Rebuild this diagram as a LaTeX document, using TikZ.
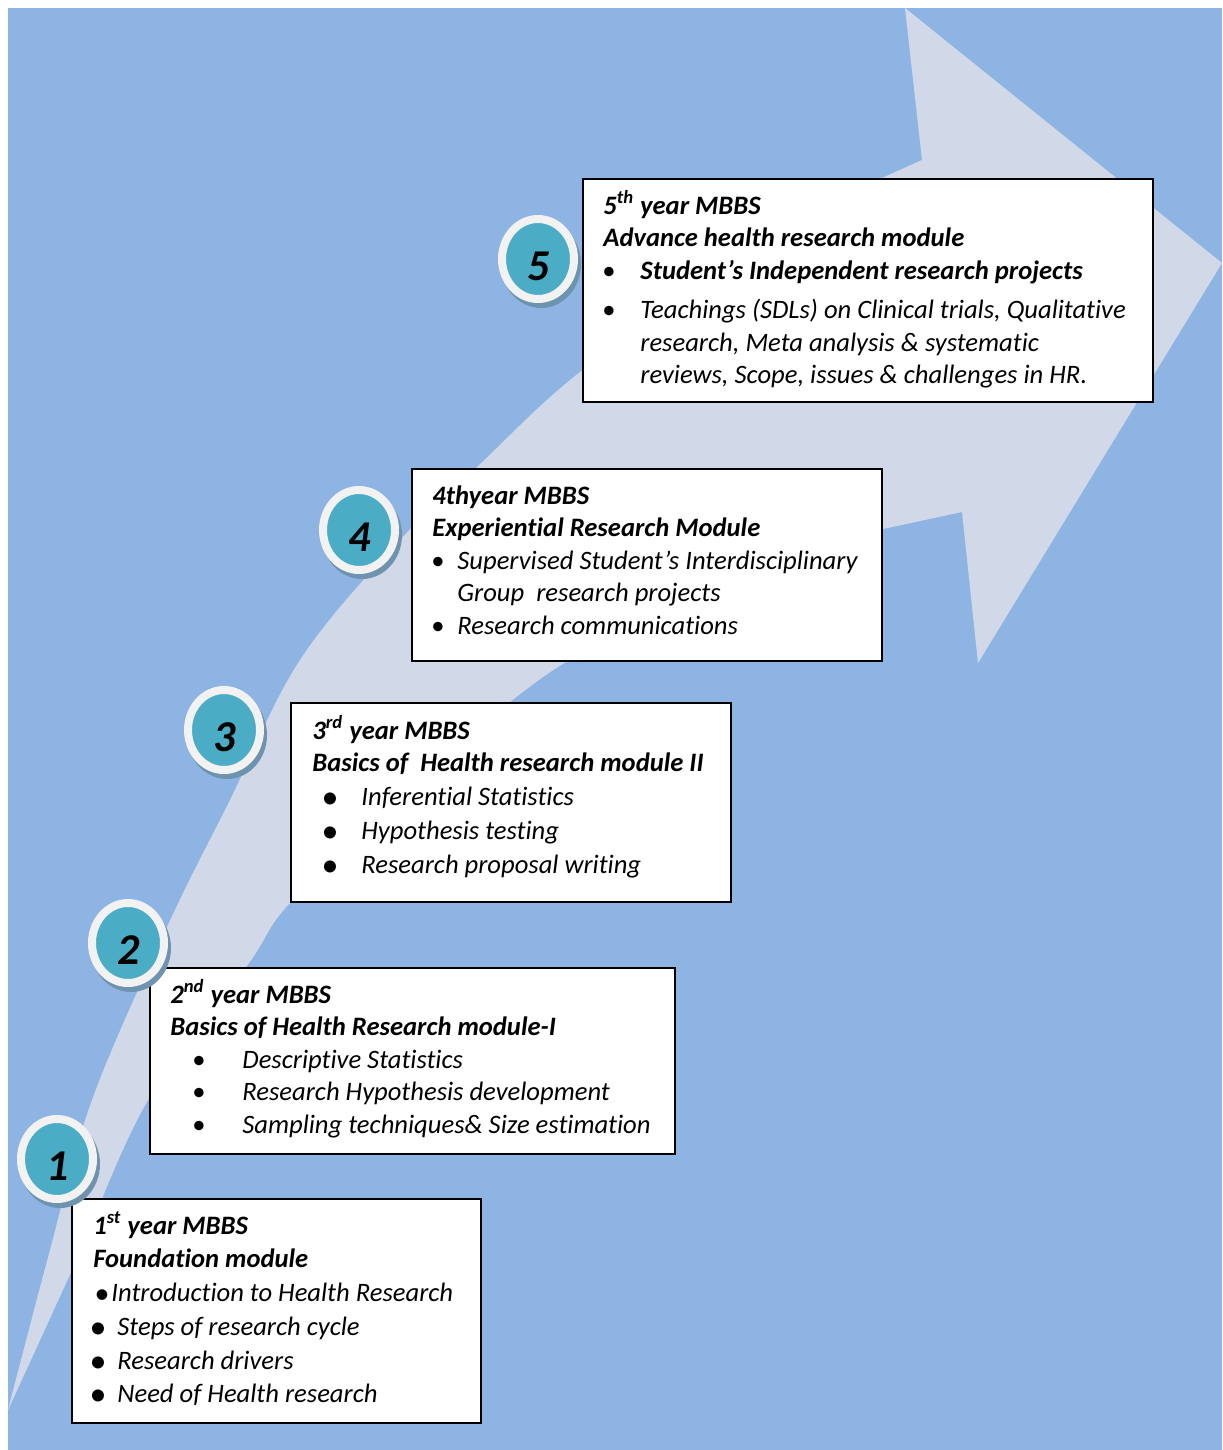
\documentclass[tikz,border=0pt]{standalone}
\usepackage{fontspec}
\setmainfont[Ligatures={NoCommon}]{Carlito}
\usetikzlibrary{shapes.geometric}
\definecolor{bgblue}{HTML}{8EB4E3}
\definecolor{arrowc}{HTML}{D1D9E8}
\definecolor{tealc}{HTML}{4BACC6}
\definecolor{ringc}{HTML}{F2F2F2}
\definecolor{shadc}{HTML}{6E93AE}
\tikzset{
  box/.style={draw=black, line width=1pt, fill=white, inner sep=0pt, anchor=center},
  ln/.style={anchor=base west, inner sep=0pt, font=\fontsize{13.3}{15}\selectfont\itshape},
  hd/.style={anchor=base west, inner sep=0pt, font=\fontsize{13.3}{15}\selectfont\bfseries\itshape},
  bul/.style={anchor=base, inner sep=0pt, font=\fontsize{13.3}{15}\selectfont},
  bigbul/.style={anchor=base, inner sep=0pt, font=\fontsize{17}{19}\selectfont},
  midbul/.style={anchor=base, inner sep=0pt, font=\fontsize{15}{17}\selectfont},
  ring/.style={ellipse, fill=tealc, draw=ringc, line width=4pt, minimum width=36pt, minimum height=40pt, inner sep=0pt},
  num/.style={inner sep=0pt, font=\fontsize{22}{26}\selectfont\bfseries\itshape}
}
\begin{document}
\begin{tikzpicture}[x=0.5pt,y=-0.5pt]
\useasboundingbox (0,0) rectangle (1222,1450);
\fill[bgblue] (8,8) rectangle (1222,1450);
% curved arrow
\fill[arrowc] (8,1410) -- plot[smooth, tension=0.6] coordinates {(8,1410) (50,1250) (92,1100) (167,927) (230,800) (300,660) (400,540) (477,467) (580,372) (730,268) (884,177)}
  -- (922,160) -- (905,8) -- (1222,263) -- (978,663) -- (962,512)
  -- plot[smooth, tension=0.6] coordinates {(883,529) (740,582) (600,643) (510,702) (400,800) (290,903) (247,966) (148,1100) (72,1270) (8,1410)} -- cycle;

% boxes
\node[box, minimum width=285pt, minimum height=111.5pt] (box5) at (868,290.5) {};
\node[box, minimum width=235pt, minimum height=96pt] (box4) at (647,565) {};
\node[box, minimum width=220pt, minimum height=99.5pt] (box3) at (511,802.5) {};
\node[box, minimum width=262.5pt, minimum height=93pt] (box2) at (412.5,1061) {};
\node[box, minimum width=204.5pt, minimum height=112pt] (box1) at (276.5,1311) {};

% circles
\foreach \cx/\cy/\n in {57/1159/1, 128/943/2, 224/730/3, 359/530/4, 538/259/5}{
  \fill[shadc] (\cx+3,\cy+5) ellipse [x radius=20pt, y radius=22pt];
  \node[ring] (c\n) at (\cx,\cy) {};
  \node[num] (n\n) at (\cx+1,\cy+7) {\n};
}

% box 5
\node[hd] (t5a) at (603,214) {5\textsuperscript{th} year MBBS};
\node[hd] (t5b) at (603,246) {Advance health research module};
\node[bul] (u5a) at (609,279) {\textbullet};
\node[hd] (t5c) at (640,279) {Student’s Independent research projects};
\node[bul] (u5b) at (609,318) {\textbullet};
\node[ln] (t5d) at (640,318) {Teachings (SDLs) on Clinical trials, Qualitative};
\node[ln] (t5e) at (640,351) {research, Meta analysis \& systematic};
\node[ln] (t5f) at (640,383) {reviews, Scope, issues \& challenges in HR.};

% box 4
\node[hd] (t4a) at (432,504) {4thyear MBBS};
\node[hd] (t4b) at (432,536) {Experiential Research Module};
\node[bul] (u4a) at (438,569) {\textbullet};
\node[ln] (t4c) at (457,569) {Supervised Student’s Interdisciplinary};
\node[ln] (t4d) at (457,601) {Group\ \ research projects};
\node[bul] (u4b) at (438,634) {\textbullet};
\node[ln] (t4e) at (457,634) {Research communications};

% box 3
\node[hd] (t3a) at (312,739) {3\textsuperscript{rd} year MBBS};
\node[hd] (t3b) at (312,771) {Basics of\ \ Health research module II};
\node[bigbul] (u3a) at (330,808) {\textbullet};
\node[ln] (t3c) at (361,805) {Inferential Statistics};
\node[bigbul] (u3b) at (330,842) {\textbullet};
\node[ln] (t3d) at (361,839) {Hypothesis testing};
\node[bigbul] (u3c) at (330,876) {\textbullet};
\node[ln] (t3e) at (361,873) {Research proposal writing};

% box 2
\node[hd] (t2a) at (170,1003) {2\textsuperscript{nd} year MBBS};
\node[hd] (t2b) at (170,1035) {Basics of Health Research module-I};
\node[bul] (u2a) at (199,1068) {\textbullet};
\node[ln] (t2c) at (242,1068) {Descriptive Statistics};
\node[bul] (u2b) at (199,1100) {\textbullet};
\node[ln] (t2d) at (242,1100) {Research Hypothesis development};
\node[bul] (u2c) at (199,1133) {\textbullet};
\node[ln] (t2e) at (242,1133) {Sampling techniques\& Size estimation};

% box 1
\node[hd] (t1a) at (93,1234) {1\textsuperscript{st} year MBBS};
\node[hd] (t1b) at (93,1267) {Foundation module};
\node[midbul] (u1a) at (102,1303) {\textbullet};
\node[ln] (t1c) at (111,1301) {Introduction to Health Research};
\node[bigbul] (u1b) at (98,1338) {\textbullet};
\node[ln] (t1d) at (117,1335) {Steps of research cycle};
\node[bigbul] (u1c) at (98,1372) {\textbullet};
\node[ln] (t1e) at (117,1369) {Research drivers};
\node[bigbul] (u1d) at (98,1405) {\textbullet};
\node[ln] (t1f) at (117,1402) {Need of Health research};
\end{tikzpicture}
\end{document}
